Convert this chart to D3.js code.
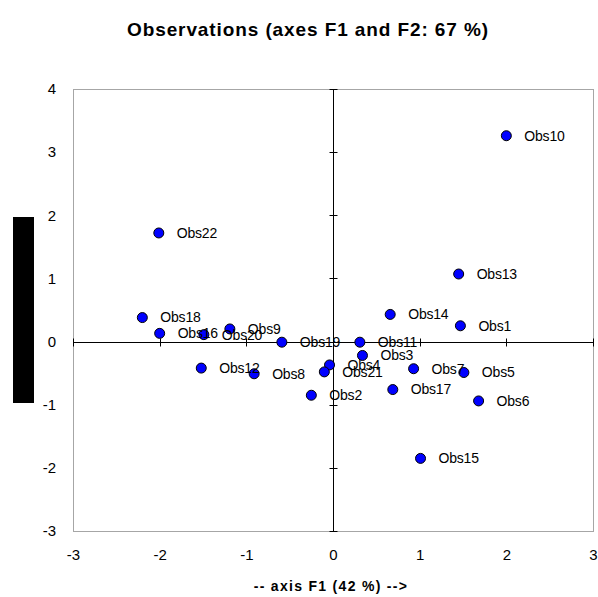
<!DOCTYPE html>
<html>
<head>
<meta charset="utf-8">
<script src="https://cdn.jsdelivr.net/npm/d3@7/dist/d3.min.js"></script>
<style>
  html, body { margin: 0; padding: 0; background: #fff; }
  svg { display: block; font-family: "Liberation Sans", Arial, sans-serif; }
</style>
</head>
<body>
<svg id="chart" width="598" height="597"></svg>
<script>
// Observation scores on the first two factors
const labels = ["Obs1","Obs2","Obs3","Obs4","Obs5","Obs6","Obs7","Obs8","Obs9","Obs10","Obs11",
                "Obs12","Obs13","Obs14","Obs15","Obs16","Obs17","Obs18","Obs19","Obs20","Obs21","Obs22"];
const f1 = [1.47, -0.25, 0.34, -0.04, 1.51, 1.68, 0.93, -0.91, -1.19, 2.00, 0.31,
            -1.52, 1.45, 0.66, 1.01, -2.00, 0.69, -2.20, -0.59, -1.49, -0.10, -2.01];
const f2 = [0.25, -0.85, -0.22, -0.37, -0.49, -0.94, -0.43, -0.51, 0.20, 3.26, -0.01,
            -0.42, 1.07, 0.43, -1.85, 0.13, -0.76, 0.38, -0.01, 0.11, -0.48, 1.72];
const xTicks = [-3, -2, -1, 0, 1, 2, 3];
const yTicks = [-3, -2, -1, 0, 1, 2, 3, 4];
const title = "Observations (axes F1 and F2: 67 %)";
const xTitle = "-- axis F1 (42 %) -->";
const yTitle = "-- axis F2 (25 %) -->";

const svg = d3.select("#chart");
const x = d3.scaleLinear().domain([-3, 3]).range([73, 593]);
const y = d3.scaleLinear().domain([-3, 4]).range([531, 89]);
const plain = d => String(d);   // ASCII hyphen for negatives

// title
svg.append("text")
  .attr("x", 308).attr("y", 36)
  .attr("text-anchor", "middle")
  .attr("font-size", 19).attr("font-weight", "bold")
  .attr("letter-spacing", 0.9)
  .text(title);

// plot frame
svg.append("rect")
  .attr("x", x(-3) + 0.5).attr("y", y(4) + 0.5)
  .attr("width", x(3) - x(-3)).attr("height", y(-3) - y(4))
  .attr("fill", "none").attr("stroke", "#a6a6a6").attr("stroke-width", 1);

// axes through the origin, with tick marks crossing them
const axisG = svg.append("g").attr("stroke", "#000").attr("stroke-width", 1);
const x0 = Math.round(x(0)) + 0.5, y0 = Math.round(y(0)) + 0.5;
axisG.append("line").attr("x1", x(-3)).attr("x2", x(3)).attr("y1", y0).attr("y2", y0);
axisG.append("line").attr("x1", x0).attr("x2", x0).attr("y1", y(4)).attr("y2", y(-3));
axisG.selectAll("line.xt").data(xTicks).join("line").attr("class", "xt")
  .attr("x1", d => Math.round(x(d)) + 0.5).attr("x2", d => Math.round(x(d)) + 0.5)
  .attr("y1", y0 - 4).attr("y2", y0 + 4);
axisG.selectAll("line.yt").data(yTicks).join("line").attr("class", "yt")
  .attr("y1", d => Math.round(y(d)) + 0.5).attr("y2", d => Math.round(y(d)) + 0.5)
  .attr("x1", x0 - 4).attr("x2", x0 + 4);

// tick labels along the frame
const xAxis = svg.append("g")
  .attr("transform", `translate(0,${y(-3) + 15})`)
  .call(d3.axisBottom(x).tickValues(xTicks).tickSize(0).tickFormat(plain));
xAxis.select(".domain").remove();
xAxis.selectAll("text").attr("font-size", 15).attr("fill", "#000")
  .attr("font-family", "Liberation Sans, Arial, sans-serif");

const yAxis = svg.append("g")
  .attr("transform", `translate(${x(-3) - 14},0)`)
  .call(d3.axisLeft(y).tickValues(yTicks).tickSize(0).tickFormat(plain));
yAxis.select(".domain").remove();
yAxis.selectAll("text").attr("font-size", 15).attr("fill", "#000")
  .attr("font-family", "Liberation Sans, Arial, sans-serif");

// axis titles
svg.append("text")
  .attr("x", 331).attr("y", 591)
  .attr("text-anchor", "middle")
  .attr("font-size", 14).attr("font-weight", "bold")
  .attr("letter-spacing", 1.3)
  .text(xTitle);

const yT = svg.append("g").attr("transform", "translate(24,310) rotate(-90)");
yT.append("rect").attr("x", -93).attr("y", -11).attr("width", 186).attr("height", 21).attr("fill", "#000");
yT.append("text")
  .attr("text-anchor", "middle").attr("dy", "0.35em")
  .attr("font-size", 13).attr("font-weight", "bold")
  .attr("fill", "#000")
  .text(yTitle);

// points and their labels
const data = labels.map((l, i) => ({ label: l, a: f1[i], b: f2[i] }));
const pts = svg.append("g");
pts.selectAll("circle").data(data).join("circle")
  .attr("cx", d => x(d.a)).attr("cy", d => y(d.b))
  .attr("r", 5)
  .attr("fill", "#0000ff").attr("stroke", "#000").attr("stroke-width", 1);
pts.selectAll("text").data(data).join("text")
  .attr("x", d => x(d.a) + 18).attr("y", d => y(d.b))
  .attr("dy", "0.35em")
  .attr("font-size", 14).attr("fill", "#000")
  .attr("letter-spacing", -0.2)
  .text(d => d.label);
</script>
</body>
</html>
